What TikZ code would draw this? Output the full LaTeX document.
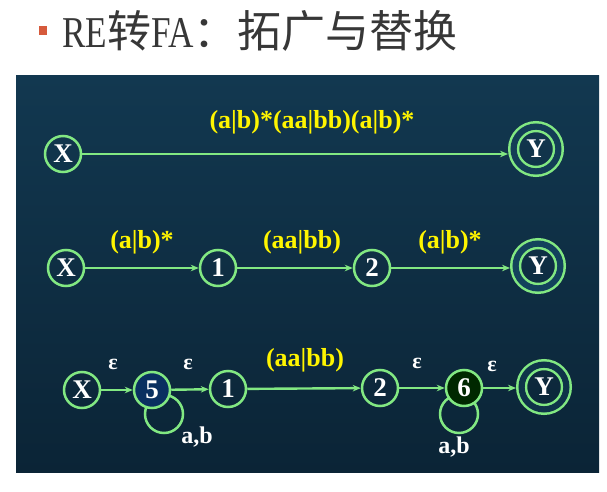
\documentclass[tikz,border=0pt]{standalone}
\usepackage{fontspec}
\setmainfont{Liberation Serif}
\newfontfamily\cjk{Noto Sans CJK SC}
\usetikzlibrary{arrows.meta,backgrounds,calc}
\definecolor{lgreen}{RGB}{130,232,130}
\definecolor{ptop}{RGB}{18,56,80}
\definecolor{pmid}{RGB}{19,66,92}
\definecolor{pbot}{RGB}{11,36,54}
\definecolor{ylab}{RGB}{255,245,0}
\definecolor{navyfill}{RGB}{10,48,96}
\definecolor{darkgreenfill}{RGB}{0,40,0}
\definecolor{bullet}{RGB}{214,90,60}
\definecolor{titlegray}{RGB}{55,55,55}
\tikzset{
  stt/.style={circle,draw=lgreen,line width=2.5pt,minimum size=36pt,inner sep=0pt,
    text=white,font=\bfseries\fontsize{27}{27}\selectfont},
  acc/.style={circle,draw=lgreen,line width=2.5pt,minimum size=44.8pt,inner sep=0pt,
    double distance=6.2pt,outer sep=5.6pt,
    text=white,font=\bfseries\fontsize{27}{27}\selectfont},
  arr/.style={draw=lgreen,line width=2.4pt,-{Stealth[length=8pt,width=6.5pt]}},
  loopline/.style={draw=lgreen,line width=2.5pt},
  relab/.style={text=ylab,font=\bfseries\fontsize{26}{26}\selectfont,inner sep=0pt},
  wlab/.style={text=white,font=\bfseries\fontsize{24}{24}\selectfont,inner sep=0pt},
  elab/.style={text=white,font=\bfseries\fontsize{22}{22}\selectfont,inner sep=0pt}
}
\begin{document}
\begin{tikzpicture}[x=1pt,y=-1pt]
\useasboundingbox (0,0) rectangle (607,492);
\fill[white] (0,0) rectangle (607,492);
% title
\fill[bullet] (39,26) rectangle (47,35);
\node[anchor=west,inner sep=0pt,text=titlegray,font=\fontsize{44}{44}\selectfont] (title) at (62,31)
  {\scalebox{0.8}[1]{RE}{\cjk 转}\scalebox{0.8}[1]{FA}{\cjk ：拓广与替换}};
% panel
\shade[top color=ptop,middle color=pmid,bottom color=pbot] (16,76) rectangle (599,472);

% row 1
\node[stt] (X1) at (63,154) {X};
\node[acc,double=ptop!50!pmid] (Y1) at (536,149) {Y};
\draw[arr] (X1) -- (X1 -| Y1.west);
\node[relab] (L1) at (312,122) {(a|b)*(aa|bb)(a|b)*};

% row 2
\node[stt] (X2) at (66,268) {X};
\node[stt] (A2) at (218,268) {1};
\node[stt] (B2) at (372,268) {2};
\node[acc,double=pmid] (Y2) at (538,266) {Y};
\draw[arr] (X2) -- (A2);
\draw[arr] (A2) -- (B2);
\draw[arr] (B2) -- (B2 -| Y2.west);
\node[relab] (L2) at (142,242) {(a|b)*};
\node[relab] (L3) at (302,242) {(aa|bb)};
\node[relab] (L4) at (450,242) {(a|b)*};

% row 3
\coordinate (C5) at (164,414);
\coordinate (C6) at (459,414);
\draw[loopline] (C5) circle (19pt);
\draw[loopline] (C6) circle (19pt);
\node[stt] (X3) at (82,390) {X};
\node[stt,fill=navyfill] (S5) at (152,390) {5};
\node[stt] (A3) at (228,389) {1};
\node[stt] (B3) at (380,388) {2};
\node[stt,fill=darkgreenfill] (S6) at (464,388) {6};
\node[acc,double=pmid!50!pbot] (Y3) at (544,387) {Y};
\draw[arr] (X3) -- (S5);
\draw[arr] (S5) -- (A3);
\draw[arr] (A3) -- (B3);
\draw[arr] (B3) -- (S6);
\draw[arr] (S6) -- (S6 -| Y3.west);
\node[elab] (E1) at (113,364) {ε};
\node[elab] (E2) at (188,364) {ε};
\node[elab] (E3) at (417,363) {ε};
\node[elab] (E4) at (492,366) {ε};
\node[relab] (L5) at (305,360) {(aa|bb)};
\node[wlab] (AB1) at (197,437) {a,b};
\node[wlab] (AB2) at (454,447) {a,b};
\end{tikzpicture}
\end{document}
